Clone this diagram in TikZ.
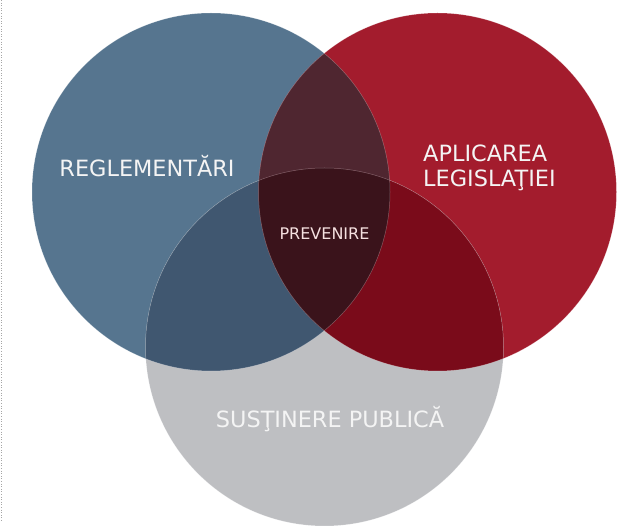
\documentclass[tikz,border=0pt]{standalone}
\usepackage{fontspec}
\setmainfont{DejaVu Sans}
\definecolor{cblue}{HTML}{56758F}
\definecolor{cred}{HTML}{A31C2D}
\definecolor{cgray}{HTML}{BEBFC2}
\definecolor{cbr}{HTML}{4F2630}
\definecolor{cbg}{HTML}{405770}
\definecolor{crg}{HTML}{7A0B1A}
\definecolor{cmid}{HTML}{3A131B}
\definecolor{ctxt}{HTML}{F4F4F4}
\begin{document}
\begin{tikzpicture}[x=1pt,y=-1pt,
  biglabel/.style={text=ctxt,inner sep=0pt,font=\fontsize{22.4}{26}\selectfont},
  smalllabel/.style={text=ctxt!92!red,inner sep=0pt,font=\fontsize{16}{19}\selectfont},
  rim/.style={draw=white,draw opacity=0.3,line width=0.5pt}]
\useasboundingbox (0,0) rectangle (624,526);
\clip (0,0) rectangle (624,526);
\def\rr{179}
\coordinate (B) at (211,192);
\coordinate (R) at (437.5,192);
\coordinate (G) at (324.5,347);
% base circles
\fill[cblue] (B) circle (\rr);
\fill[cred] (R) circle (\rr);
\fill[cgray] (G) circle (\rr);
% overlaps
\begin{scope}
  \clip (B) circle (\rr);
  \fill[cbr] (R) circle (\rr);
  \fill[cbg] (G) circle (\rr);
\end{scope}
\begin{scope}
  \clip (R) circle (\rr);
  \fill[crg] (G) circle (\rr);
\end{scope}
\begin{scope}
  \clip (B) circle (\rr);
  \clip (R) circle (\rr);
  \fill[cmid] (G) circle (\rr);
\end{scope}
% faint rims
\draw[rim] (B) circle (\rr);
\draw[rim] (R) circle (\rr);
\draw[rim] (G) circle (\rr);
% dotted left rule
\coordinate (dtop) at (1,0);
\coordinate (dbot) at (1,522);
\draw[gray!70,dotted,line width=0.6pt] (dtop) -- (dbot);
% labels
\node[biglabel,anchor=base] (reg) at (147,177) {REGLEMENTĂRI};
\node[biglabel,anchor=base west] (apl1) at (423,162) {APLICAREA};
\node[biglabel,anchor=base west] (apl2) at (423,187) {LEGISLAŢIEI};
\node[biglabel,anchor=base] (sus) at (330,428) {SUSŢINERE PUBLICĂ};
\node[smalllabel,anchor=base] (prev) at (324.5,240) {PREVENIRE};
\end{tikzpicture}
\end{document}
